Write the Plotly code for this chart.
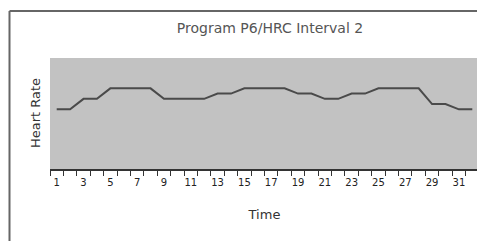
import plotly.graph_objects as go

time_points = list(range(1, 33))
heart_rate = [110, 110, 120, 120, 130, 130, 130, 130, 120, 120, 120, 120,
              125, 125, 130, 130, 130, 130, 125, 125, 120, 120, 125, 125,
              130, 130, 130, 130, 115, 115, 110, 110]
tick_labels = [str(i) for i in range(1, 33, 2)]
title_text = "Program P6/HRC Interval 2"
x_title = "Time"
y_title = "Heart Rate"

# page body has an 8px margin; size the figure to fill the rest of the window
OFF = 8
W, H = 485 - OFF, 241 - OFF
ml, mr, mt, mb = 50 - OFF, 6, 58 - OFF, 241 - 169
pw, ph = W - ml - mr, H - mt - mb

fig = go.Figure()
fig.add_trace(go.Scatter(x=time_points, y=heart_rate, mode="lines",
                         line=dict(color="#4a4a4a", width=2), hoverinfo="skip"))

fig.update_layout(
    width=W, height=H,
    margin=dict(l=ml, r=mr, t=mt, b=mb, autoexpand=False),
    paper_bgcolor="white", plot_bgcolor="#c2c2c2",
    showlegend=False,
    title=dict(text=title_text, x=(270 - OFF - ml) / pw, xref="paper", xanchor="center",
               y=1 - (28 - OFF) / H, yanchor="middle",
               font=dict(family="DejaVu Sans", size=14, color="#555")),
    font=dict(family="DejaVu Sans", color="#333"),
)
fig.update_xaxes(
    range=[0.5, 32.5], tickmode="array",
    tickvals=time_points[::2], ticktext=tick_labels,
    ticks="", showgrid=False, zeroline=False,
    showline=True, linecolor="#333", linewidth=2,
    tickfont=dict(size=10, color="#222"), ticklabelstandoff=3,
    minor=dict(tickvals=[i + 0.5 for i in range(0, 33)], ticks="outside",
               ticklen=5, tickcolor="#333", tickwidth=1, showgrid=False),
    title=dict(text=x_title, font=dict(size=13, color="#333"), standoff=23),
    automargin=False,
)
fig.update_yaxes(range=[53, 159], showticklabels=False, ticks="", showgrid=False,
                 zeroline=False, showline=False)

fig.add_annotation(text=y_title, textangle=-90, xref="paper", yref="paper",
                   x=(35 - 50) / pw, y=(169 - 113) / ph, showarrow=False,
                   font=dict(size=13, color="#333"), xanchor="center", yanchor="middle")

# outer frame
bx = (9.5 - 50) / pw
by = 1 + (58 - 11) / ph
fig.add_shape(type="line", xref="paper", yref="paper", x0=bx, x1=bx, y0=-1, y1=by,
              line=dict(color="#666", width=2))
fig.add_shape(type="line", xref="paper", yref="paper", x0=bx, x1=1.2, y0=by, y1=by,
              line=dict(color="#666", width=2))

fig.write_html("out.html")
